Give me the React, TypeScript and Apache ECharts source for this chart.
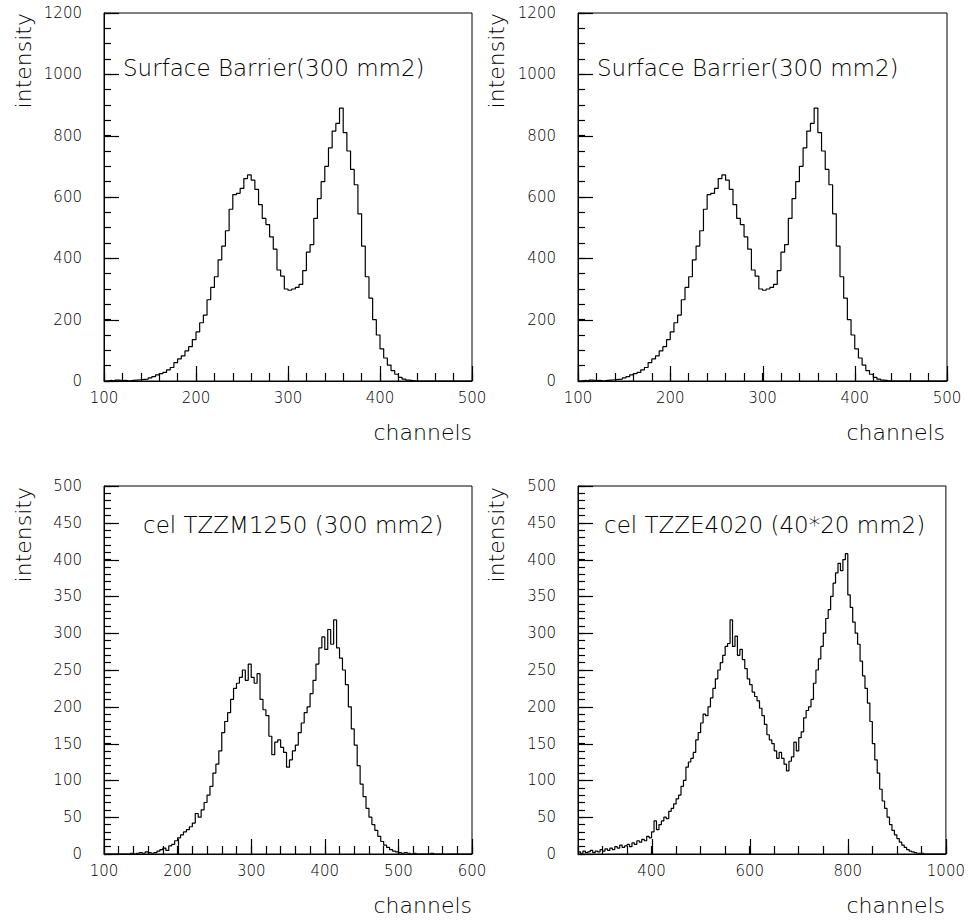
import React, { useEffect, useRef } from "react";
import * as echarts from "echarts";

// ---------- data (bin contents) ----------
// Surface Barrier (300 mm2): bins of 4 channels starting at channel 100
const surfaceBarrierStart = 100;
const surfaceBarrierBin = 4;
const surfaceBarrier = [
  0, 2, 0, 3, 1, 2, 0, 2, 3, 4,
  5, 6, 10, 14, 20, 24, 28, 36, 44, 60,
  72, 82, 98, 112, 135, 160, 190, 215, 265, 305,
  340, 395, 440, 490, 560, 608, 612, 628, 660, 672,
  655, 625, 575, 530, 510, 470, 430, 362, 342, 300,
  296, 300, 305, 315, 360, 420, 445, 530, 595, 650,
  700, 760, 815, 840, 890, 810, 750, 690, 640, 545,
  440, 340, 270, 200, 150, 105, 75, 52, 34, 22,
  12, 6, 3, 1, 0, 0, 0, 0, 0, 0,
  0, 0, 0, 0, 0, 0, 0, 0, 0, 0,
];

// cel TZZM1250 (300 mm2): bins of 4 channels starting at channel 100
const tzzm1250Start = 100;
const tzzm1250Bin = 4;
const tzzm1250 = [
  0, 0, 0, 0, 0, 0, 0, 0, 0, 1,
  0, 1, 2, 1, 3, 2, 1, 2, 4, 6,
  8, 5, 11, 13, 18, 22, 26, 30, 33, 37,
  42, 55, 50, 60, 70, 80, 92, 110, 122, 140,
  165, 180, 192, 210, 225, 232, 240, 250, 236, 258,
  240, 232, 245, 210, 196, 188, 160, 135, 152, 155,
  145, 138, 118, 128, 140, 148, 165, 178, 192, 200,
  218, 236, 258, 280, 295, 278, 305, 285, 318, 280,
  266, 250, 230, 200, 170, 148, 120, 95, 78, 62,
  50, 40, 32, 24, 17, 12, 9, 6, 4, 3,
  2, 1, 2, 1, 0, 1, 0, 0, 0, 0,
  0, 1, 0, 0, 0, 0, 0, 0, 0, 0,
  0, 0, 0, 0, 0,
];

// cel TZZE4020 (40*20 mm2): bins of 5 channels starting at channel 250
const tzze4020Start = 250;
const tzze4020Bin = 5;
const tzze4020 = [
  3, 1, 4, 2, 3, 5, 2, 4, 3, 6,
  4, 7, 5, 8, 6, 10, 8, 12, 9, 11,
  13, 10, 15, 13, 18, 16, 20, 18, 24, 22,
  30, 45, 33, 40, 45, 50, 48, 58, 62, 68,
  75, 80, 92, 100, 118, 125, 130, 138, 155, 165,
  178, 190, 188, 200, 212, 225, 238, 250, 260, 270,
  282, 286, 318, 282, 296, 270, 278, 264, 252, 238,
  230, 220, 214, 208, 198, 188, 176, 162, 155, 150,
  140, 130, 138, 130, 122, 113, 126, 132, 152, 140,
  158, 166, 185, 195, 200, 210, 232, 250, 265, 282,
  300, 320, 332, 350, 368, 382, 395, 385, 400, 408,
  352, 335, 315, 300, 285, 262, 242, 225, 205, 180,
  150, 128, 110, 88, 72, 62, 50, 40, 32, 26,
  21, 16, 12, 9, 6, 4, 3, 2, 1, 1,
  1, 0, 0, 0, 0, 0, 0, 0, 0, 0,
];

// tick labels
const xTicksSurface = [100, 200, 300, 400, 500];
const yTicksSurface = [0, 200, 400, 600, 800, 1000, 1200];
const xTicksTZZM = [100, 200, 300, 400, 500, 600];
const xTicksTZZE = [400, 600, 800, 1000];
const yTicksCel = [0, 50, 100, 150, 200, 250, 300, 350, 400, 450, 500];

const titles = [
  "Surface Barrier(300 mm2)",
  "Surface Barrier(300 mm2)",
  "cel TZZM1250 (300 mm2)",
  "cel TZZE4020 (40*20 mm2)",
];
const xName = "channels";
const yName = "intensity";

const FONT = "DejaVu Sans";
const TEXT_WEIGHT: any = 200;
const TICK_W = 1.2;

type Panel = {
  left: number; top: number; width: number; height: number;
  values: number[]; start: number; bin: number;
  xMin: number; xMax: number; xMinor: number; xMajor: number[];
  yMax: number; yMinor: number; yMajor: number[];
  title: string; titleX: number; titleY: number;
  nameX: number; nameY: number; chanX: number; chanY: number;
};

const panels: Panel[] = [
  {
    left: 104, top: 13, width: 368, height: 368,
    values: surfaceBarrier, start: surfaceBarrierStart, bin: surfaceBarrierBin,
    xMin: 100, xMax: 500, xMinor: 20, xMajor: xTicksSurface,
    yMax: 1200, yMinor: 50, yMajor: yTicksSurface,
    title: titles[0], titleX: 123, titleY: 68,
    nameX: 23, nameY: 13, chanX: 472, chanY: 432,
  },
  {
    left: 578, top: 13, width: 369, height: 368,
    values: surfaceBarrier, start: surfaceBarrierStart, bin: surfaceBarrierBin,
    xMin: 100, xMax: 500, xMinor: 20, xMajor: xTicksSurface,
    yMax: 1200, yMinor: 50, yMajor: yTicksSurface,
    title: titles[1], titleX: 597, titleY: 68,
    nameX: 496, nameY: 13, chanX: 945, chanY: 432,
  },
  {
    left: 104, top: 486, width: 368, height: 368,
    values: tzzm1250, start: tzzm1250Start, bin: tzzm1250Bin,
    xMin: 100, xMax: 600, xMinor: 20, xMajor: xTicksTZZM,
    yMax: 500, yMinor: 10, yMajor: yTicksCel,
    title: titles[2], titleX: 143, titleY: 525,
    nameX: 23, nameY: 487, chanX: 472, chanY: 905,
  },
  {
    left: 578, top: 486, width: 369, height: 368,
    values: tzze4020, start: tzze4020Start, bin: tzze4020Bin,
    xMin: 250, xMax: 1000, xMinor: 50, xMajor: xTicksTZZE,
    yMax: 500, yMinor: 10, yMajor: yTicksCel,
    title: titles[3], titleX: 604, titleY: 525,
    nameX: 496, nameY: 487, chanX: 945, chanY: 905,
  },
];

function toSteps(values: number[], start: number, bin: number) {
  const pts: number[][] = values.map((v, i) => [start + i * bin, v]);
  pts.push([start + values.length * bin, values[values.length - 1]]);
  return pts;
}

const onlyMajor = (major: number[]) => (v: number) =>
  major.some((m) => Math.abs(m - v) < 1e-6) ? String(Math.round(v)) : "";

const labelStyle = { fontFamily: FONT, fontSize: 15, color: "#000", fontWeight: TEXT_WEIGHT };

export default function App() {
  const ref = useRef<HTMLDivElement>(null);

  useEffect(() => {
    if (!ref.current) return;
    const chart = echarts.init(ref.current, undefined, { renderer: "svg" });

    const grid: any[] = [];
    const xAxis: any[] = [];
    const yAxis: any[] = [];
    const series: any[] = [];

    panels.forEach((p, i) => {
      grid.push({
        left: p.left, top: p.top, width: p.width, height: p.height,
        show: true, borderColor: "#000", borderWidth: 1,
      });
      xAxis.push({
        gridIndex: i, type: "value",
        min: p.xMin, max: p.xMax, interval: p.xMinor,
        axisLine: { show: true, lineStyle: { color: "#000", width: 1 } },
        axisTick: { show: true, inside: true, length: 8, lineStyle: { color: "#000", width: TICK_W } },
        axisLabel: { show: true, margin: 9, ...labelStyle, formatter: onlyMajor(p.xMajor) },
        splitLine: { show: false },
      });
      yAxis.push({
        gridIndex: i, type: "value",
        min: 0, max: p.yMax, interval: p.yMinor,
        axisLine: { show: true, lineStyle: { color: "#000", width: 1 } },
        axisTick: { show: true, inside: true, length: 7, lineStyle: { color: "#000", width: TICK_W } },
        axisLabel: { show: true, margin: 22, ...labelStyle, formatter: onlyMajor(p.yMajor) },
        splitLine: { show: false },
      });
      series.push({
        type: "line", step: "end", symbol: "none", silent: true,
        xAxisIndex: i, yAxisIndex: i,
        lineStyle: { color: "#000", width: 1.2 },
        data: toSteps(p.values, p.start, p.bin),
      });
    });

    chart.setOption({ animation: false, grid, xAxis, yAxis, series });

    // texts and long major ticks, positioned through the axes' own scales
    const graphic: any[] = [];
    panels.forEach((p, i) => {
      const finder = { gridIndex: i } as any;
      p.xMajor.forEach((v) => {
        const pt = chart.convertToPixel(finder, [v, 0]) as any;
        if (!pt) return;
        const x = Math.round(pt[0]) + 0.5;
        graphic.push({
          type: "line", silent: true,
          shape: { x1: x, y1: pt[1], x2: x, y2: pt[1] - 15 },
          style: { stroke: "#000", lineWidth: TICK_W },
        });
      });
      p.yMajor.forEach((v) => {
        const pt = chart.convertToPixel(finder, [p.xMin, v]) as any;
        if (!pt) return;
        const y = Math.round(pt[1]) + 0.5;
        graphic.push({
          type: "line", silent: true,
          shape: { x1: pt[0], y1: y, x2: pt[0] + 15, y2: y },
          style: { stroke: "#000", lineWidth: TICK_W },
        });
      });
      graphic.push({
        type: "text", x: p.titleX, y: p.titleY,
        style: { text: p.title, fontFamily: FONT, fontSize: 23, fontWeight: TEXT_WEIGHT, fill: "#000", align: "left", verticalAlign: "middle" },
      });
      graphic.push({
        type: "text", x: p.nameX, y: p.nameY, rotation: Math.PI / 2,
        style: { text: yName, fontFamily: FONT, fontSize: 22, fontWeight: TEXT_WEIGHT, fill: "#000", align: "right", verticalAlign: "middle" },
      });
      graphic.push({
        type: "text", x: p.chanX, y: p.chanY,
        style: { text: xName, fontFamily: FONT, fontSize: 22, fontWeight: TEXT_WEIGHT, fill: "#000", align: "right", verticalAlign: "middle" },
      });
    });
    chart.setOption({ graphic });

    return () => chart.dispose();
  }, []);

  return (
    <div
      ref={ref}
      style={{ position: "absolute", left: 0, top: 0, width: 968, height: 921, background: "#fff" }}
    />
  );
}
